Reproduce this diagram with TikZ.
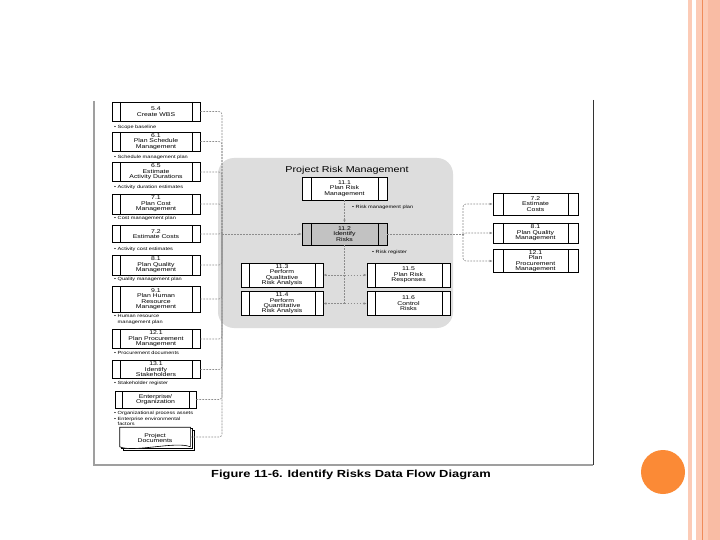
\documentclass[tikz,border=0pt]{standalone}
\usepackage{fontspec}
\setmainfont{Liberation Sans}[FakeStretch=1.25]
\usetikzlibrary{arrows.meta, positioning}
\definecolor{slidepeach}{HTML}{FCCBB6}
\definecolor{slidestripe}{HTML}{F9BCA4}
\definecolor{slideline}{HTML}{F08C5A}
\definecolor{slidedot}{HTML}{FB8A36}
\definecolor{panelgrey}{HTML}{DDDDDD}
\definecolor{activegrey}{HTML}{C2C2C2}
\definecolor{flowgrey}{HTML}{8C8C8C}

\begin{document}
\begin{tikzpicture}[
    x=1pt, y=-1pt, >={Latex[length=3pt,width=2.6pt]},
    bars/.style={path picture={
        \draw[line width=0.6pt] ([xshift=#1]path picture bounding box.north west) -- ([xshift=#1]path picture bounding box.south west);
        \draw[line width=0.6pt] ([xshift=-#1]path picture bounding box.north east) -- ([xshift=-#1]path picture bounding box.south east);}},
    proc/.style={rectangle, draw=black, line width=0.6pt, fill=white, minimum width=88, minimum height=19, inner sep=0pt, align=center, font=\fontsize{5.5}{5.4}\selectfont, bars=8},
    active/.style={proc, fill=activegrey},
    store/.style={rectangle, draw=black, line width=0.6pt, fill=white, minimum width=70, minimum height=19, inner sep=0pt, align=center, font=\fontsize{5.5}{5.4}\selectfont},
    outlbl/.style={anchor=west, align=left, inner sep=0pt, font=\fontsize{4.5}{5.4}\selectfont},
    flow/.style={draw=flowgrey, line width=0.6pt, dash pattern=on 1.8pt off 1.2pt}
]
\useasboundingbox (0,0) rectangle (720,540);
\fill[white] (0,0) rectangle (720,540);

% Slide edge
\fill[slidepeach] (688,0) rectangle (692,540);
\fill[slidepeach] (696,0) rectangle (720,540);
\fill[slidestripe] (708,0) rectangle (720,540);
\draw[slideline, line width=0.8pt] (702,0) -- (702,540);
\fill[slidedot] (663,472) circle (22pt);

% Figure frame
\draw[gray!75, line width=1.3pt] (94,101) -- (94,465) -- (593,465);
\draw[black!80, line width=1pt] (593,100) -- (593,465);

% Project Risk Management panel
\node[rectangle, rounded corners=16, fill=panelgrey, minimum width=235, minimum height=170] (riskpanel) at (335.5,243) {};
\node[font=\fontsize{8.6}{9}\selectfont] (paneltitle) at (347,170) {Project Risk Management};

% Left column
\node[proc] (wbs) at (156,111.5) {5.4\\Create WBS};
\node[proc] (schedplan) at (156,141.5) {6.1\\Plan Schedule\\Management};
\node[proc] (durest) at (156,172) {6.5\\Estimate\\Activity Durations};
\node[proc, minimum height=20] (costplan) at (156,204) {7.1\\Plan Cost\\Management};
\node[proc, minimum height=17] (costest) at (156,234) {7.2\\Estimate Costs};
\node[proc, minimum height=20] (qualplan) at (156,265) {8.1\\Plan Quality\\Management};
\node[proc, minimum height=26] (hrplan) at (156,299) {9.1\\Plan Human\\Resource\\Management};
\node[proc, minimum height=19] (procplan) at (156,339) {12.1\\Plan Procurement\\Management};
\node[proc, minimum height=18] (stakeid) at (156,369.5) {13.1\\Identify\\Stakeholders};
\node[proc, minimum width=81, minimum height=17, bars=7] (entorg) at (155.5,399.5) {Enterprise/\\Organization};
\node[store] (projdocs) at (155,437) {};

% Project documents, page stack and wavy foot
\draw[line width=0.6pt, fill=white] ([shift={(4,3)}]projdocs.north west) -- ([shift={(4,3)}]projdocs.north east) -- ([shift={(4,3)}]projdocs.south east) -- ([shift={(4,3)}]projdocs.south west) -- cycle;
\draw[line width=0.6pt, fill=white] ([shift={(2,1.5)}]projdocs.north west) -- ([shift={(2,1.5)}]projdocs.north east) -- ([shift={(2,1.5)}]projdocs.south east) -- ([shift={(2,1.5)}]projdocs.south west) -- cycle;
\draw[line width=0.6pt, fill=white] (projdocs.north west) -- (projdocs.north east) -- (projdocs.south east)
    .. controls +(-14,-6) and +(14,6) .. (projdocs.south west) -- cycle;
\node[align=center, font=\fontsize{5.5}{5.4}\selectfont] (docstext) at ([yshift=-1]projdocs.center) {Project\\Documents};

% Left outputs
\node[outlbl] (lblscope) at (114,127) {\textbullet\ Scope baseline};
\node[outlbl] (lblsched) at (114,157) {\textbullet\ Schedule management plan};
\node[outlbl] (lbldur) at (114,187) {\textbullet\ Activity duration estimates};
\node[outlbl] (lblcost) at (114,218) {\textbullet\ Cost management plan};
\node[outlbl] (lblcostest) at (114,249) {\textbullet\ Activity cost estimates};
\node[outlbl] (lblqual) at (114,279) {\textbullet\ Quality management plan};
\node[outlbl] (lblhr) at (114,319.5) {\textbullet\ Human resource\\\hphantom{\textbullet\ }management plan};
\node[outlbl] (lblproc) at (114,353) {\textbullet\ Procurement documents};
\node[outlbl] (lblstake) at (114,383) {\textbullet\ Stakeholder register};
\node[outlbl] (lblopa) at (114,413) {\textbullet\ Organizational process assets};
\node[outlbl] (lbleef) at (114,421.5) {\textbullet\ Enterprise environmental\\\hphantom{\textbullet\ }factors};

% Centre
\node[proc, minimum width=85, minimum height=23, bars=9] (riskplan) at (344.5,188.5) {11.1\\Plan Risk\\Management};
\node[active, minimum width=85, minimum height=22, bars=9] (identrisks) at (344.5,234) {11.2\\Identify\\Risks};
\node[proc, minimum width=82, minimum height=24] (qualana) at (282,275) {11.3\\Perform\\Qualitative\\Risk Analysis};
\node[proc, minimum width=82, minimum height=24] (quantana) at (282,303.5) {11.4\\Perform\\Quantitative\\Risk Analysis};
\node[proc, minimum width=83, minimum height=24] (respplan) at (408.5,275) {11.5\\Plan Risk\\Responses};
\node[proc, minimum width=83, minimum height=24] (ctrlrisks) at (408.5,303.5) {11.6\\Control\\Risks};
\node[outlbl] (lblrmp) at (352,207) {\textbullet\ Risk management plan};
\node[outlbl] (lblreg) at (372,252) {\textbullet\ Risk register};

% Right column
\node[proc, minimum width=85, minimum height=22, bars=10] (estcosts) at (535.5,204) {7.2\\Estimate\\Costs};
\node[proc, minimum width=85, minimum height=20, bars=10] (qualmgmt) at (535.5,233) {8.1\\Plan Quality\\Management};
\node[proc, minimum width=85, minimum height=23, bars=10] (procmgmt) at (535.5,261) {12.1\\Plan\\Procurement\\Management};

\coordinate (busin) at (222,234);
\coordinate (busout) at (463,234);
\coordinate (regsplit1) at (344.5,275);
\coordinate (regsplit2) at (344.5,303.5);

% Connections
\foreach \src in {wbs, schedplan, durest, costplan, costest, qualplan, hrplan, procplan, stakeid, entorg, projdocs}
    \draw[flow, rounded corners=3] (\src.east) -| (busin);
\draw[flow, ->] (busin) -- (identrisks.west);

\draw[flow] (identrisks.east) -- (busout);
\draw[flow, ->, rounded corners=3] (busout) |- (estcosts.west);
\draw[flow, ->, rounded corners=3] (busout) |- (qualmgmt.west);
\draw[flow, ->, rounded corners=3] (busout) |- (procmgmt.west);

\draw[flow, ->] (riskplan) -- (identrisks);
\draw[flow] (identrisks.south) -- (regsplit2);
\draw[flow, ->] (regsplit1) -- (qualana.east);
\draw[flow, ->] (regsplit1) -- (respplan.west);
\draw[flow, ->] (regsplit2) -- (quantana.east);
\draw[flow, ->] (regsplit2) -- (ctrlrisks.west);

% Caption
\node[font=\bfseries\fontsize{10.3}{12}\selectfont] (caption) at (351,475) {Figure 11-6. Identify Risks Data Flow Diagram};

\end{tikzpicture}
\end{document}
